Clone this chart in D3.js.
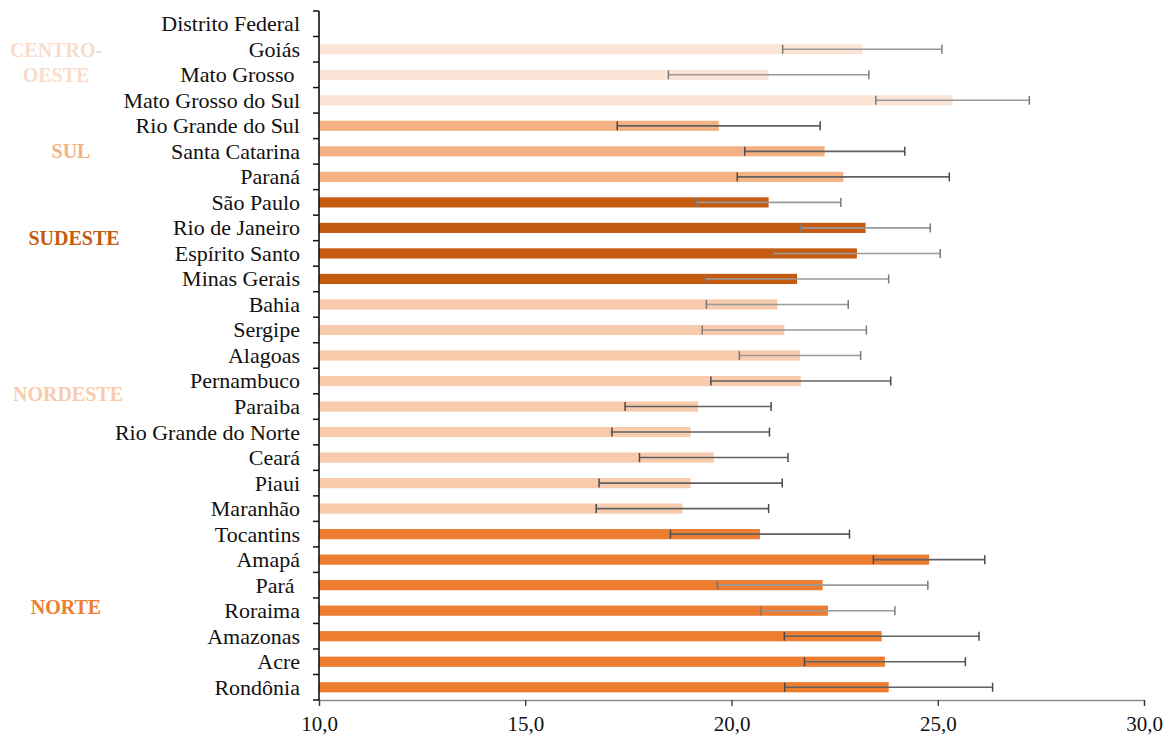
<!DOCTYPE html>
<html>
<head>
<meta charset="utf-8">
<script src="https://cdn.jsdelivr.net/npm/d3@7"></script>
<style>
  html, body { margin: 0; padding: 0; background: #fff; }
  svg { display: block; font-family: "Liberation Serif", "Times New Roman", serif; }
  text { white-space: pre; }
</style>
</head>
<body>
<svg id="chart" width="1172" height="737"></svg>
<script>
// States, top to bottom
const states = [
  "Distrito Federal", "Goiás", "Mato Grosso ", "Mato Grosso do Sul",
  "Rio Grande do Sul", "Santa Catarina", "Paraná",
  "São Paulo", "Rio de Janeiro", "Espírito Santo", "Minas Gerais",
  "Bahia", "Sergipe", "Alagoas", "Pernambuco", "Paraiba", "Rio Grande do Norte",
  "Ceará", "Piaui", "Maranhão",
  "Tocantins", "Amapá", "Pará ", "Roraima", "Amazonas", "Acre", "Rondônia"
];

// Region of each state
const regionOf = [
  "CO", "CO", "CO", "CO",
  "S", "S", "S",
  "SE", "SE", "SE", "SE",
  "NE", "NE", "NE", "NE", "NE", "NE", "NE", "NE", "NE",
  "N", "N", "N", "N", "N", "N", "N"
];

// Mean value per state (Distrito Federal has no value)
const means = [
  null, 23.17, 20.90, 25.36,
  19.69, 22.26, 22.71,
  20.90, 23.25, 23.04, 21.59,
  21.11, 21.28, 21.66, 21.68, 19.19, 19.01, 19.57, 19.01, 18.81,
  20.69, 24.79, 22.21, 22.34, 23.64, 23.72, 23.81
];

// Error bar half-widths
const errors = [
  null, 1.93, 2.43, 1.86,
  2.46, 1.94, 2.57,
  1.75, 1.57, 2.02, 2.22,
  1.72, 1.99, 1.47, 2.18, 1.77, 1.91, 1.80, 2.22, 2.09,
  2.17, 1.35, 2.55, 1.62, 2.36, 1.95, 2.52
];

// Region labels
const regionNames = ["CENTRO-\nOESTE", "SUL", "SUDESTE", "NORDESTE", "NORTE"];
const regionKeys  = ["CO", "S", "SE", "NE", "N"];

// Axis ticks
const xTicks = [10, 15, 20, 25, 30];

// ---- styling ----
const barColor = { CO: "#fbe5d6", S: "#f4b183", SE: "#c55a11", NE: "#f8cbad", N: "#ed7d31" };
const labelColor = { CO: "#f8dccb", S: "#f4b183", SE: "#c55a11", NE: "#f8cbad", N: "#ed7d31" };
const softErrorBars = new Set(["Goiás", "Mato Grosso ", "Mato Grosso do Sul", "São Paulo",
  "Rio de Janeiro", "Espírito Santo", "Minas Gerais", "Bahia", "Sergipe", "Alagoas", "Pará ", "Roraima"]);

const svg = d3.select("#chart");

const x = d3.scaleLinear().domain([10, 30]).range([319, 1144]);
const y = d3.scaleBand().domain(states).range([11, 700]).padding(0);
const step = y.step();
const barH = step * 0.4;

const rows = states.map((s, i) => ({ state: s, region: regionOf[i], mean: means[i], err: errors[i] }));
const withData = rows.filter(d => d.mean != null);

// Bars
svg.append("g").selectAll("rect")
  .data(withData)
  .join("rect")
  .attr("x", x(10))
  .attr("y", d => y(d.state) + step / 2 - barH / 2)
  .attr("width", d => x(d.mean) - x(10))
  .attr("height", barH)
  .attr("fill", d => barColor[d.region]);

// Error bars
const eb = svg.append("g").selectAll("g")
  .data(withData)
  .join("g")
  .attr("transform", d => `translate(0,${y(d.state) + step / 2})`);

eb.append("line")
  .attr("x1", d => x(d.mean - d.err))
  .attr("x2", d => x(d.mean + d.err))
  .attr("stroke", d => softErrorBars.has(d.state) ? "#9a9a9a" : "#606060")
  .attr("stroke-width", 1.6);

eb.selectAll("line.cap")
  .data(d => [d.mean - d.err, d.mean + d.err].map(v => ({ v, soft: softErrorBars.has(d.state) })))
  .join("line")
  .attr("class", "cap")
  .attr("x1", c => x(c.v)).attr("x2", c => x(c.v))
  .attr("y1", -4.5).attr("y2", 4.5)
  .attr("stroke", c => c.soft ? "#7a7a7a" : "#4a4a4a")
  .attr("stroke-width", 1.5);

// X axis
const xAxis = svg.append("g")
  .attr("transform", "translate(0,700)")
  .call(d3.axisBottom(x).tickValues(xTicks).tickSize(6).tickPadding(10)
    .tickFormat(d => d3.format(".1f")(d).replace(".", ",")));
xAxis.select(".domain").attr("stroke", "#8a8a8a").attr("stroke-width", 1.3);
xAxis.selectAll(".tick line").attr("stroke", "#333").attr("stroke-width", 1.3);
xAxis.selectAll(".tick text")
  .attr("font-family", "Liberation Serif, serif")
  .attr("font-size", 21)
  .attr("fill", "#111");

// Y axis: line with ticks at category boundaries
svg.append("line")
  .attr("x1", x(10)).attr("x2", x(10))
  .attr("y1", 11).attr("y2", 700)
  .attr("stroke", "#111").attr("stroke-width", 1.6);
svg.append("g").selectAll("line")
  .data(d3.range(states.length + 1))
  .join("line")
  .attr("x1", x(10) - 6).attr("x2", x(10))
  .attr("y1", k => 11 + k * step).attr("y2", k => 11 + k * step)
  .attr("stroke", "#111").attr("stroke-width", 1.5);

// Category labels
svg.append("g").selectAll("text")
  .data(rows)
  .join("text")
  .attr("x", 300)
  .attr("y", d => y(d.state) + step / 2)
  .attr("dy", "0.34em")
  .attr("text-anchor", "end")
  .attr("font-size", 22)
  .attr("fill", "#111")
  .text(d => d.state);

// Region labels, placed next to the rows they cover
const regionPlace = {
  CO: { cx: 56, rowFrom: "Goiás", rowTo: "Mato Grosso " },
  S:  { cx: 71, rowFrom: "Santa Catarina", rowTo: "Santa Catarina" },
  SE: { cx: 74, rowFrom: "Rio de Janeiro", rowTo: "Espírito Santo" },
  NE: { cx: 68, rowFrom: "Pernambuco", rowTo: "Paraiba" },
  N:  { cx: 66, rowFrom: "Roraima", rowTo: "Roraima" }
};
const regionLabels = svg.append("g").selectAll("text")
  .data(regionKeys.map((k, i) => ({ key: k, name: regionNames[i] })))
  .join("text")
  .attr("text-anchor", "middle")
  .attr("font-size", 20)
  .attr("font-weight", "bold")
  .attr("fill", d => labelColor[d.key]);

regionLabels.each(function(d) {
  const p = regionPlace[d.key];
  const lines = d.name.split("\n");
  const mid = (y(p.rowFrom) + y(p.rowTo)) / 2 + step / 2 - (d.key === "SE" ? 3 : d.key === "N" ? 4 : 0);
  const lh = 25;
  const t = d3.select(this);
  lines.forEach((ln, j) => {
    t.append("tspan")
      .attr("x", p.cx)
      .attr("y", mid + (j - (lines.length - 1) / 2) * lh)
      .attr("dy", "0.35em")
      .text(ln);
  });
});
</script>
</body>
</html>
